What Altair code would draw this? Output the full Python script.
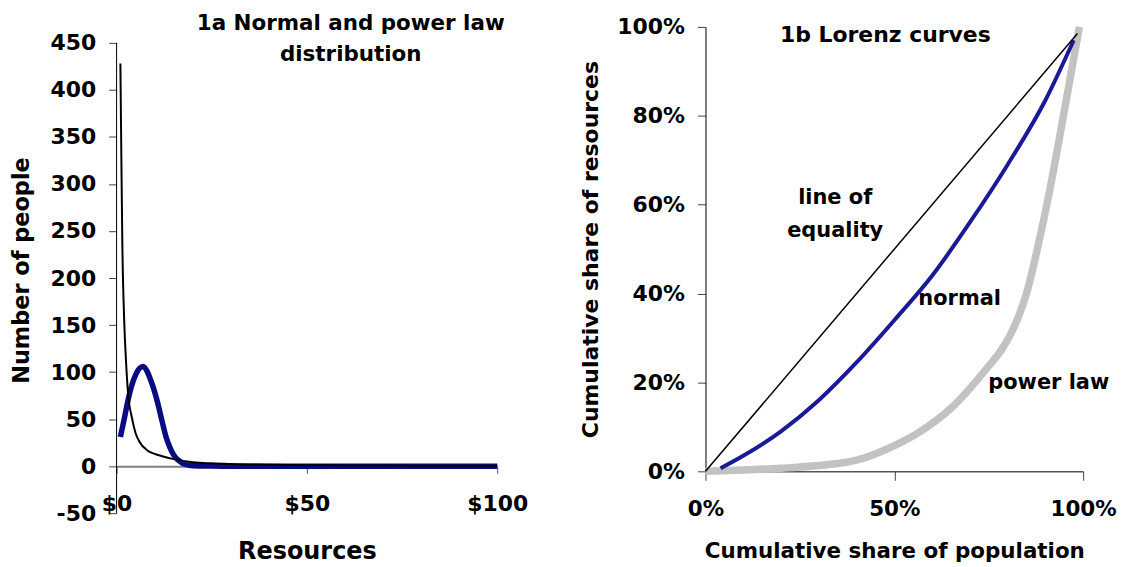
import altair as alt
import pandas as pd

FONT = "DejaVu Sans"

# ---- 1a: number of people by resources ($) ----
power_x = [1, 1.25, 1.5, 2, 2.5, 3, 4, 5, 6, 8, 10, 12, 15, 20, 25, 30, 40, 50, 60, 80, 100]
power_y = [428, 330, 240, 155, 110, 78, 52, 35, 26, 17, 13, 10.5, 7.5, 4.2, 3.0, 2.3, 1.5, 1.1, 0.8, 0.5, 0.4]

normal_x = [1, 2, 3, 4, 5, 6, 7, 8, 9, 10, 11, 12, 13, 14, 15, 16, 17, 18, 19, 20,
            25, 30, 40, 50, 60, 70, 80, 90, 100]
normal_y = [31, 50, 70, 86, 97, 104, 106, 101, 91, 79, 64, 47, 31, 20, 12, 7, 4, 2, 1, 0.5,
            0.1, 0, 0, 0, 0, 0, 0, 0, 0]

count_ticks = [-50, 0, 50, 100, 150, 200, 250, 300, 350, 400, 450]
dollar_ticks = [0, 50, 100]

# ---- 1b: Lorenz curves ----
equal_pop = [0, 0.985]
equal_res = [0, 0.985]

normal_pop = [0.04, 0.1, 0.2, 0.3, 0.4, 0.5, 0.6, 0.7, 0.8, 0.9, 0.975]
normal_res = [0.007, 0.035, 0.09, 0.16, 0.245, 0.34, 0.44, 0.56, 0.69, 0.835, 0.97]

power_pop = [0, 0.1, 0.2, 0.3, 0.4, 0.5, 0.56, 0.655, 0.75, 0.785, 0.82, 0.85, 0.88, 0.91,
             0.955, 0.99]
power_res = [0, 0.003, 0.007, 0.013, 0.025, 0.058, 0.085, 0.146, 0.237, 0.275, 0.33, 0.40,
             0.505, 0.626, 0.834, 1.0]

share_ticks_y = [0, 0.2, 0.4, 0.6, 0.8, 1.0]
share_ticks_x = [0, 0.5, 1.0]

labels = ["line of", "equality", "normal", "power law"]
label_pop = [0.3435, 0.3435, 0.673, 0.909]
label_res = [0.614, 0.541, 0.388, 0.198]

# ---------------------------------------------------------------------------
dist_power = pd.DataFrame({"resources": power_x, "people": power_y})
dist_normal = pd.DataFrame({"resources": normal_x, "people": normal_y})
y_span = pd.DataFrame({"lo": [count_ticks[0]], "hi": [count_ticks[-1]]})

x_res = alt.X(
    "resources:Q",
    scale=alt.Scale(domain=[0, 100], nice=False, zero=False),
    axis=alt.Axis(
        values=dollar_ticks, labelExpr="'$' + datum.value", title="Resources",
        offset=-47, domainColor="#808080", domainWidth=2, tickColor="#555555",
        tickSize=7, labelPadding=20, titlePadding=25, titleFontSize=24,
        labelFontSize=22, labelFlush=False, grid=False,
    ),
)
y_people = alt.Y(
    "people:Q",
    scale=alt.Scale(domain=[-50, 467], nice=False, zero=False),
    axis=alt.Axis(
        values=count_ticks, labelExpr="'' + datum.value", title="Number of people",
        domain=False, tickColor="#444444", tickSize=8, labelPadding=13, titlePadding=16,
        labelFontSize=22, titleFontSize=22.5, labelFlush=False, grid=False,
    ),
)

normal_line = alt.Chart(dist_normal).mark_line(
    color="#0a0a82", strokeWidth=5.5, interpolate="monotone"
).encode(x=x_res, y=y_people)

power_line = alt.Chart(dist_power).mark_line(
    color="black", strokeWidth=2, interpolate="monotone"
).encode(x=x_res, y=y_people)

y_axis_line = alt.Chart(y_span).mark_rule(color="black", strokeWidth=1).encode(
    x=alt.datum(0), y=alt.Y("lo:Q"), y2="hi:Q"
)

left = alt.layer(y_axis_line, normal_line, power_line).properties(
    width=382,
    height=488,
    title=alt.TitleParams(
        ["1a Normal and power law", "distribution"],
        anchor="middle", dx=44, offset=-39, lineHeight=31, fontSize=21.5,
    ),
)

# ---------------------------------------------------------------------------
lor_equal = pd.DataFrame({"pop": equal_pop, "res": equal_res})
lor_normal = pd.DataFrame({"pop": normal_pop, "res": normal_res})
lor_power = pd.DataFrame({"pop": power_pop, "res": power_res})
lor_labels = pd.DataFrame({"label": labels, "pop": label_pop, "res": label_res})

x_pop = alt.X(
    "pop:Q",
    scale=alt.Scale(domain=[0, 1], nice=False),
    axis=alt.Axis(
        values=share_ticks_x, format=".0%", title="Cumulative share of population",
        domainColor="black", tickColor="#444444", tickSize=9, labelPadding=18,
        titlePadding=21, titleFontSize=21.5, labelFlush=False, grid=False,
    ),
)
y_res = alt.Y(
    "res:Q",
    scale=alt.Scale(domain=[0, 1], nice=False),
    axis=alt.Axis(
        values=share_ticks_y, format=".0%", title="Cumulative share of resources",
        domainColor="black", tickColor="#444444", tickSize=8, labelPadding=13,
        titlePadding=14, labelFontSize=22, labelFlush=False, grid=False,
    ),
)

power_band = alt.Chart(lor_power).mark_line(
    color="#c2c2c2", strokeWidth=7.5, interpolate="monotone"
).encode(x=x_pop, y=y_res)

normal_curve = alt.Chart(lor_normal).mark_line(
    color="#1a1a96", strokeWidth=4, interpolate="monotone"
).encode(x=x_pop, y=y_res)

equal_line = alt.Chart(lor_equal).mark_line(color="black", strokeWidth=1.5).encode(
    x=x_pop, y=y_res
)

curve_labels = alt.Chart(lor_labels).mark_text(
    font=FONT, fontSize=21, fontWeight="bold", color="black",
    align="center", baseline="middle",
).encode(x=x_pop, y=y_res, text="label:N")

right = alt.layer(power_band, normal_curve, equal_line, curve_labels).properties(
    width=379,
    height=446,
    title=alt.TitleParams("1b Lorenz curves", anchor="middle", dx=-9, offset=-35, fontSize=22),
)

chart = (
    alt.hconcat(left, right, spacing=209, bounds="flush")
    .properties(padding={"left": 11, "top": 11, "right": 5, "bottom": 5})
    .configure(font=FONT)
    .configure_view(stroke=None)
    .configure_axis(
        labelFont=FONT, labelFontSize=21.5, labelFontWeight="bold", labelColor="black",
        titleFont=FONT, titleFontSize=22, titleFontWeight="bold", titleColor="black",
        domainWidth=1, tickWidth=1,
    )
    .configure_title(
        font=FONT, fontSize=21.5, fontWeight="bold", color="black",
    )
)

chart.save("out.html", embed_options={"renderer": "svg", "actions": False})
